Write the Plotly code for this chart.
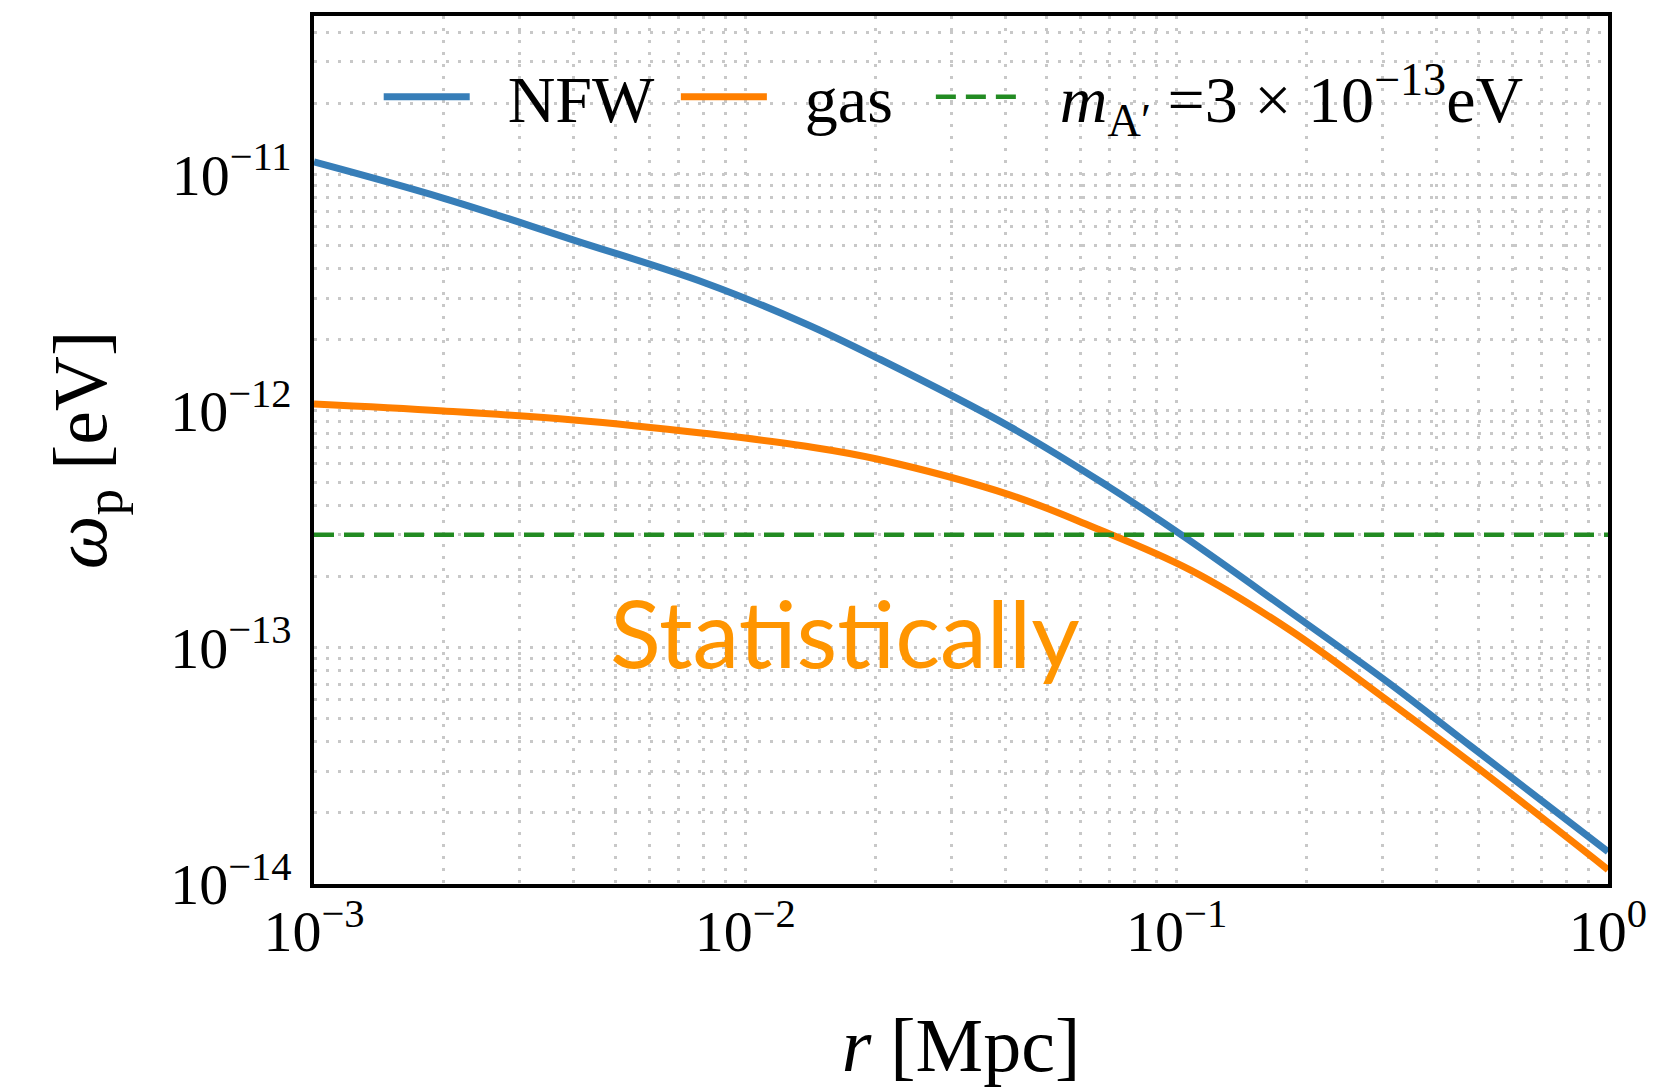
import plotly.graph_objects as go

# ---- data ----
r_nfw = [0.001, 0.002, 0.004, 0.0081, 0.0137, 0.0203, 0.041, 0.0695, 0.104, 0.183, 0.311, 0.483, 1.0]
w_nfw = [1.13e-11, 7.93e-12, 5.28e-12, 3.47e-12, 2.35e-12, 1.67e-12, 8.59e-13, 4.79e-13,
         2.94e-13, 1.416e-13, 7.06e-14, 3.80e-14, 1.37e-14]

r_gas = [0.001, 0.002, 0.004, 0.008, 0.0137, 0.0203, 0.041, 0.0637, 0.108, 0.183, 0.30, 0.483, 1.0]
w_gas = [1.07e-12, 1.00e-12, 9.16e-13, 8.05e-13, 7.11e-13, 6.25e-13, 4.42e-13, 3.24e-13,
         2.12e-13, 1.186e-13, 6.19e-14, 3.24e-14, 1.15e-14]

m_dark = 3e-13
r_line = [0.001, 1.0]

x_tickvals = [1e-3, 1e-2, 1e-1, 1e0]
x_ticktext = ["10<sup>−3</sup>", "10<sup>−2</sup>", "10<sup>−1</sup>", "10<sup>0</sup>"]
y_tickvals = [1e-14, 1e-13, 1e-12, 1e-11]
y_ticktext = ["10<sup>−14</sup>", "10<sup>−13</sup>", "10<sup>−12</sup>", "10<sup>−11</sup>"]

SERIF = "Liberation Serif"
GRID = "#c8c8c8"
NB = "\u00a0"

fig = go.Figure()
fig.add_trace(go.Scatter(x=r_nfw, y=w_nfw, mode="lines", name=NB * 2 + "NFW" + NB,
                         line=dict(color="#377eb8", width=7, shape="spline", smoothing=1.1)))
fig.add_trace(go.Scatter(x=r_gas, y=w_gas, mode="lines", name=NB * 2 + "gas" + NB * 2,
                         line=dict(color="#ff7f00", width=7, shape="spline", smoothing=1.1)))
fig.add_trace(go.Scatter(x=r_line, y=[m_dark, m_dark], mode="lines",
                         name=NB * 2 + "<i>m</i><sub>A′</sub> =3 × 10<sup>−13</sup>eV",
                         line=dict(color="#228b22", width=4.5, dash="20px,10px")))

fig.add_annotation(text="Statistically", xref="paper", yref="paper", x=0.41, y=0.291,
                   xanchor="center", yanchor="middle", showarrow=False,
                   font=dict(family="Lato", size=94, color="#ff9500"))

axis_common = dict(type="log", showline=True, linecolor="black", linewidth=3.5, mirror=True,
                   ticks="", showgrid=True, gridcolor=GRID, gridwidth=2.5, griddash="3px,9px",
                   zeroline=False, tickfont=dict(family=SERIF, size=58, color="black"),
                   ticklabeloverflow="allow",
                   minor=dict(showgrid=True, gridcolor=GRID, gridwidth=2.5, griddash="3px,9px",
                              dtick="D1"))

fig.update_xaxes(**axis_common, range=[-3, 0], tickmode="array", tickvals=x_tickvals,
                 ticktext=x_ticktext, ticklabelstandoff=-6,
                 title=dict(text="<i>r</i> [Mpc]", font=dict(family=SERIF, size=76, color="black"),
                            standoff=55))
fig.update_yaxes(**axis_common, range=[-14, -10.33], tickmode="array", tickvals=y_tickvals,
                 ticktext=y_ticktext, ticklabelstandoff=7,
                 title=dict(text="<i>ω</i><sub>p</sub> [eV]", font=dict(family=SERIF, size=76, color="black"),
                            standoff=40))

fig.update_layout(
    width=1659, height=1091,
    margin=dict(l=314, r=38, t=16, b=207),
    plot_bgcolor="white", paper_bgcolor="white",
    showlegend=True,
    legend=dict(orientation="h", x=0.05, y=0.964, xanchor="left", yanchor="top",
                bgcolor="rgba(0,0,0,0)", font=dict(family=SERIF, size=66, color="black"),
                itemwidth=86),
)

fig.write_html("out.html")
